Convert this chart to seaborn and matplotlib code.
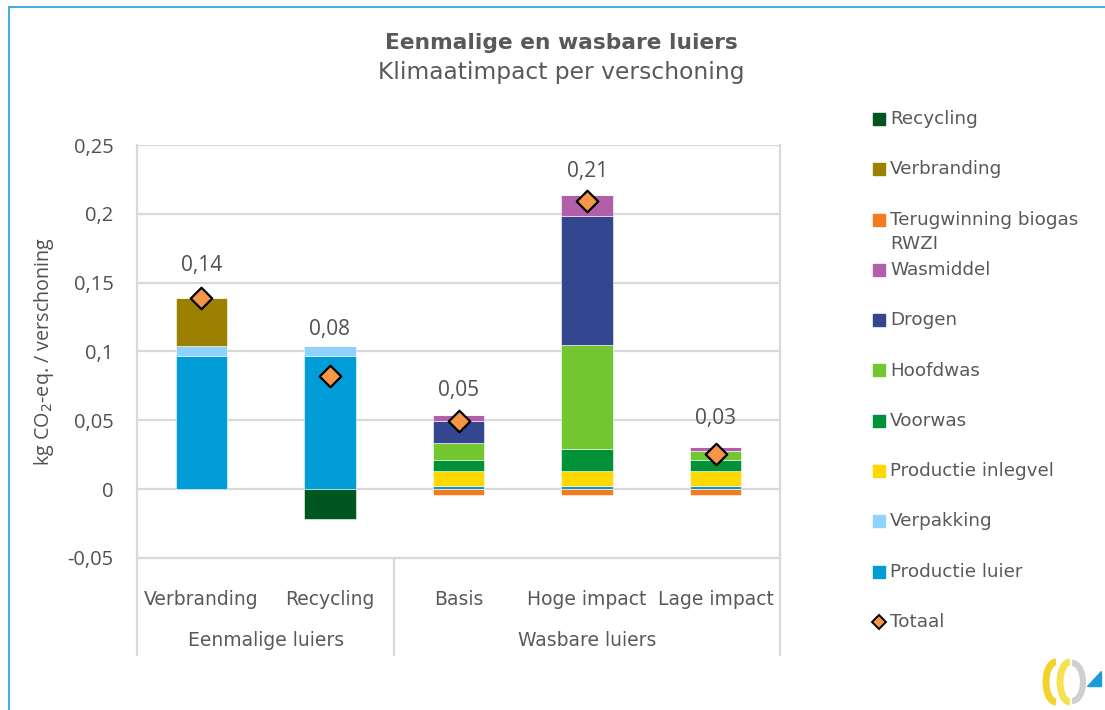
import numpy as np
import pandas as pd
import matplotlib
matplotlib.use('Agg')
import matplotlib.pyplot as plt
import matplotlib.transforms as mtrans
from matplotlib.patches import Rectangle, Polygon, Arc
from matplotlib.lines import Line2D
import seaborn as sns

# data
categories = ["Verbranding", "Recycling", "Basis", "Hoge impact", "Lage impact"]
groups = ["Eenmalige luiers", "Wasbare luiers"]
group_sizes = [2, 3]

productie_luier = [0.097, 0.097, 0.0024, 0.0024, 0.0024]
verpakking = [0.007, 0.007, 0.0, 0.0, 0.0]
productie_inlegvel = [0.0, 0.0, 0.0107, 0.0107, 0.0107]
voorwas = [0.0, 0.0, 0.0078, 0.0158, 0.008]
hoofdwas = [0.0, 0.0, 0.0126, 0.076, 0.0065]
drogen = [0.0, 0.0, 0.0158, 0.0938, 0.0]
wasmiddel = [0.0, 0.0, 0.0049, 0.015, 0.0027]
terugwinning_biogas = [0.0, 0.0, -0.0045, -0.0045, -0.0045]
verbranding = [0.035, 0.0, 0.0, 0.0, 0.0]
recycling = [0.0, -0.022, 0.0, 0.0, 0.0]
totaal = [0.139, 0.082, 0.0497, 0.209, 0.0258]

yticks = [-0.05, 0, 0.05, 0.1, 0.15, 0.2, 0.25]
ytick_labels = ["-0,05", "0", "0,05", "0,1", "0,15", "0,2", "0,25"]

# stack order bottom -> top (legend shows reversed)
series = [
    ("Productie luier", productie_luier, "#009CD8"),
    ("Verpakking", verpakking, "#8DD3FD"),
    ("Productie inlegvel", productie_inlegvel, "#FFD800"),
    ("Voorwas", voorwas, "#009239"),
    ("Hoofdwas", hoofdwas, "#72C62F"),
    ("Drogen", drogen, "#33468F"),
    ("Wasmiddel", wasmiddel, "#B15FA9"),
    ("Terugwinning biogas\nRWZI", terugwinning_biogas, "#F47A20"),
    ("Verbranding", verbranding, "#9C8100"),
    ("Recycling", recycling, "#00561F"),
]
total_color = "#F79646"
text_color = "#595959"
grid_color = "#D9D9D9"

sns.set_theme(style="white")
plt.rcParams['font.family'] = ['DejaVu Sans']

W, H = 1105, 710
fig = plt.figure(figsize=(W / 100, H / 100), dpi=100)

def fx(px):
    return px / W

def fy(py):
    return 1 - py / H

ax = fig.add_axes([fx(137), fy(558), fx(780) - fx(137), fy(145) - fy(558)])

x = np.arange(len(categories))
pos_bottom = np.zeros(len(categories))
neg_bottom = np.zeros(len(categories))
for name, vals, col in series:
    vals = np.array(vals)
    bottoms = np.where(vals >= 0, pos_bottom, neg_bottom)
    ax.bar(x, vals, width=0.4, bottom=bottoms, color=col, edgecolor="white",
           linewidth=0.4, zorder=3)
    pos_bottom += np.where(vals >= 0, vals, 0)
    neg_bottom += np.where(vals < 0, vals, 0)

df_tot = pd.DataFrame({"x": x, "totaal": totaal})
sns.scatterplot(data=df_tot, x="x", y="totaal", marker="D", s=120,
                color=total_color, edgecolor="black", linewidth=1.6,
                zorder=5, ax=ax, legend=False)

label_offsets = [16, 4, 10, 9, 13]
for xi, top, t, off in zip(x, pos_bottom, totaal, label_offsets):
    ax.annotate(f"{t:.2f}".replace(".", ","), (xi, top), xytext=(0, off),
                textcoords="offset points", ha="center", va="bottom",
                fontsize=15, color="#505050", family="Open Sans")

ax.set_xlim(-0.5, 4.5)
ax.set_ylim(-0.05, 0.25)
ax.set_yticks(yticks)
ax.set_yticklabels(ytick_labels, family="Open Sans", fontsize=14.5, color="#505050")
ax.yaxis.grid(True, color=grid_color, linewidth=1.6, zorder=0)
ax.set_axisbelow(True)
ax.tick_params(axis="y", length=0, pad=17)
ax.set_xticks(x)
ax.set_xticklabels(categories, fontsize=13.5, color=text_color)
ax.tick_params(axis="x", length=0, pad=23)
ax.set_xlabel("")
ax.set_ylabel(r"kg CO$_2$-eq. / verschoning", family="Open Sans", fontsize=14.2,
              color="#505050", labelpad=8)
ax.spines["top"].set_visible(False)
for side in ["left", "right", "bottom"]:
    ax.spines[side].set_color(grid_color)
    ax.spines[side].set_linewidth(1.6)

# multi-level category axis
trans = mtrans.blended_transform_factory(ax.transData, ax.transAxes)
depth = (558 - 655) / (558 - 145)
start = -0.5
bounds = [start]
for g, n in zip(groups, group_sizes):
    ax.text(start + n / 2, (558 - 640) / (558 - 145), g, transform=trans,
            ha="center", va="center", fontsize=13.5, color=text_color)
    start += n
    bounds.append(start)
for b in bounds:
    ax.add_line(Line2D([b, b], [0, depth], transform=trans, color=grid_color,
                       linewidth=1.6, clip_on=False))

# titles
fig.text(fx(561), fy(43), "Eenmalige en wasbare luiers", ha="center", va="center",
         fontsize=15.7, fontweight="bold", color=text_color)
fig.text(fx(561), fy(73), "Klimaatimpact per verschoning", ha="center", va="center",
         fontsize=16.8, color=text_color)

# legend (manual, reversed stack order + Totaal)
legend_items = [(n, c) for n, _, c in series[::-1]]
for i, (name, col) in enumerate(legend_items):
    yc = 119 + i * 50.3
    fig.patches.append(Rectangle((fx(873), fy(yc + 6)), fx(12), fy(yc - 6) - fy(yc + 6),
                                 transform=fig.transFigure, color=col))
    for j, line in enumerate(name.split("\n")):
        fig.text(fx(890), fy(yc + j * 24), line, ha="left", va="center",
                 fontsize=13.2, color=text_color)
yc = 119 + len(legend_items) * 50.3
fig.add_artist(Line2D([fx(879)], [fy(yc)], marker="D", markersize=7.5,
                      markerfacecolor=total_color, markeredgecolor="black",
                      markeredgewidth=1.4, linestyle="none"))
fig.text(fx(890), fy(yc), "Totaal", ha="left", va="center", fontsize=13.2,
         color=text_color)

# outer frame lines
frame_col = "#2EA8D9"
fig.add_artist(Line2D([fx(9), fx(9)], [fy(7), 0], color=frame_col, linewidth=1.3))
fig.add_artist(Line2D([fx(9), 1], [fy(7), fy(7)], color=frame_col, linewidth=1.3))

# small logo, bottom right (pixel coordinates)
lax = fig.add_axes([fx(1036), fy(710), fx(69), fy(650) - fy(710)])
lax.set_xlim(1036, 1105)
lax.set_ylim(710, 650)
lax.axis("off")
lax.add_patch(Arc((1072, 682), 22, 38, theta1=-90, theta2=90, color="#CFCFCF", linewidth=4.5))
lax.add_patch(Arc((1056, 682), 20, 40, theta1=90, theta2=270, color="#F2D22B", linewidth=5))
lax.add_patch(Arc((1070, 682), 20, 40, theta1=90, theta2=270, color="#F6E14F", linewidth=5))
lax.add_patch(Polygon([[1087, 686], [1101, 686], [1101, 671]], closed=True, color="#1C9BD7"))

fig.savefig("out.png", dpi=100)
